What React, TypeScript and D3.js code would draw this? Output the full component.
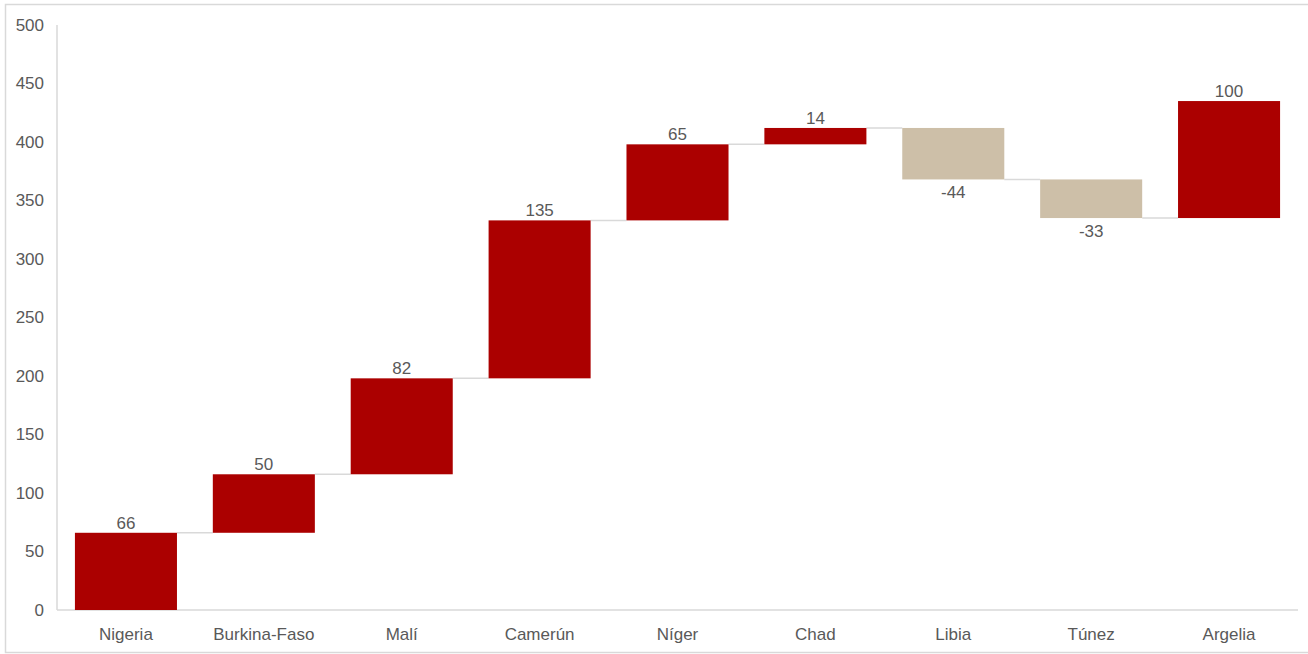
import React from "react";
import * as d3 from "d3";

const categories = ["Nigeria", "Burkina-Faso", "Malí", "Camerún", "Níger", "Chad", "Libia", "Túnez", "Argelia"];
const deltas = [66, 50, 82, 135, 65, 14, -44, -33, 100];
const yTicks = [0, 50, 100, 150, 200, 250, 300, 350, 400, 450, 500];

const W = 1308;
const H = 654;
const M = { left: 57, right: 10, top: 25, bottom: 44 };
const RED = "#AB0000";
const TAN = "#CDBFA8";
const TEXT = "#595959";
const FONT = "'Liberation Sans', Arial, sans-serif";
const FS = 17;

export default function App() {
  // running totals: each step floats from the previous total
  let run = 0;
  const steps = deltas.map((d, i) => {
    const start = run;
    run += d;
    return { cat: categories[i], d, start, end: run };
  });

  const x = d3
    .scaleBand<string>()
    .domain(categories)
    .range([M.left, W - M.right])
    .paddingInner(0.26)
    .paddingOuter(0.13);
  const y = d3.scaleLinear().domain([0, 500]).range([H - M.bottom, M.top]);

  return (
    <svg
      width={W}
      height={H}
      style={{ position: "absolute", left: 0, top: 0, fontFamily: FONT }}
    >
      <rect x={0} y={0} width={W} height={H} fill="#fff" />
      {/* chart frame */}
      <path d={`M${W},4.5 H5.5 V652.5 H${W}`} fill="none" stroke="#d9d9d9" strokeWidth={1.5} />

      {/* axes */}
      <line x1={M.left} x2={M.left} y1={y(500)} y2={y(0)} stroke="#d9d9d9" strokeWidth={1.5} />
      <line x1={M.left} x2={W - M.right} y1={y(0)} y2={y(0)} stroke="#d9d9d9" strokeWidth={1.5} />

      {yTicks.map((t) => (
        <text
          key={t}
          x={M.left - 13}
          y={y(t)}
          dy="0.35em"
          textAnchor="end"
          fontSize={FS}
          fill={TEXT}
        >
          {t}
        </text>
      ))}

      {/* connectors between consecutive steps */}
      {steps.slice(0, -1).map((s, i) => {
        const next = steps[i + 1];
        return (
          <line
            key={"c" + i}
            x1={(x(s.cat) as number) + x.bandwidth()}
            x2={x(next.cat) as number}
            y1={y(s.end)}
            y2={y(s.end)}
            stroke="#d9d9d9"
            strokeWidth={1.5}
          />
        );
      })}

      {steps.map((s) => {
        const x0 = x(s.cat) as number;
        const top = y(Math.max(s.start, s.end));
        const bottom = y(Math.min(s.start, s.end));
        const pos = s.d >= 0;
        return (
          <g key={s.cat}>
            <rect
              x={x0}
              y={top}
              width={x.bandwidth()}
              height={bottom - top}
              fill={pos ? RED : TAN}
            />
            <text
              x={x0 + x.bandwidth() / 2}
              y={pos ? top - 4 : bottom + 19}
              textAnchor="middle"
              fontSize={FS}
              fill={TEXT}
            >
              {s.d}
            </text>
            <text
              x={x0 + x.bandwidth() / 2}
              y={y(0) + 30}
              textAnchor="middle"
              fontSize={FS}
              fill={TEXT}
            >
              {s.cat}
            </text>
          </g>
        );
      })}
    </svg>
  );
}
